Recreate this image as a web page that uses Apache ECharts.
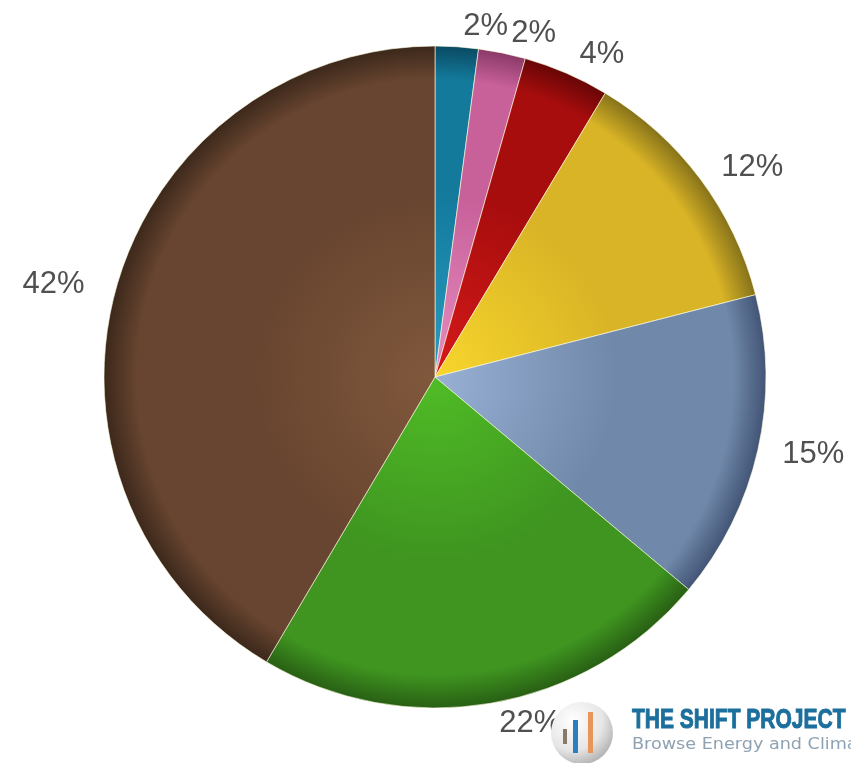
<!DOCTYPE html>
<html>
<head>
<meta charset="utf-8">
<script src="https://cdn.jsdelivr.net/npm/echarts@6/dist/echarts.min.js"></script>
<style>
  html, body { margin: 0; padding: 0; background: #ffffff; }
  #chart { width: 851px; height: 763px; }
</style>
</head>
<body>
<div id="chart"></div>
<script>
// Share of each source (percent), clockwise from 12 o'clock
const categories = ['Teal', 'Pink', 'Red', 'Yellow', 'Blue', 'Green', 'Brown'];
const shares = [2.1, 2.3, 4.2, 12.4, 15.1, 22.4, 41.5];
// Shading per slice: [centre, body, rim]
const sliceShades = [
  ['#2a9cc0', '#137a9c', '#0a4a62'],
  ['#e68cc0', '#c8609a', '#8a3a68'],
  ['#d61a1a', '#a80d0d', '#680606'],
  ['#f8d62c', '#d9b426', '#86721a'],
  ['#97b0d4', '#7089aa', '#435576'],
  ['#50bc26', '#3f9520', '#285f14'],
  ['#80583c', '#684530', '#3c281b']
];

const CX = 435, CY = 377, R = 331;

function shade(c) {
  return {
    type: 'radial', x: CX, y: CY, r: R, global: true,
    colorStops: [
      { offset: 0, color: c[0] },
      { offset: 0.55, color: c[1] },
      { offset: 0.9, color: c[1] },
      { offset: 1, color: c[2] }
    ]
  };
}

const chart = echarts.init(document.getElementById('chart'), null, { renderer: 'canvas' });

chart.setOption({
  animation: false,
  backgroundColor: '#ffffff',
  series: [{
    type: 'pie',
    center: [CX, CY],
    radius: [0, R],
    startAngle: 90,
    clockwise: true,
    avoidLabelOverlap: false,
    itemStyle: { borderColor: 'rgba(255,255,225,0.6)', borderWidth: 1 },
    label: {
      show: true,
      position: 'outside',
      fontFamily: 'Liberation Sans, Arial, sans-serif',
      fontSize: 31,
      color: '#505050',
      distanceToLabelLine: 5,
      formatter: p => Math.round(p.percent) + '%'
    },
    labelLine: { show: false, length: 20, length2: 0 },
    data: categories.map((name, i) => ({
      name: name,
      value: shares[i],
      itemStyle: { color: shade(sliceShades[i]) },
      label: i === 6 ? { distanceToLabelLine: 12 } : undefined
    }))
  }],
  graphic: [
    {
      type: 'circle',
      shape: { cx: 582, cy: 733, r: 31 },
      style: {
        fill: {
          type: 'radial', x: 0.35, y: 0.3, r: 0.8,
          colorStops: [
            { offset: 0, color: '#ffffff' },
            { offset: 0.6, color: '#e6e6e6' },
            { offset: 1, color: '#a9a9a9' }
          ]
        }
      },
      z: 10
    },
    { type: 'rect', shape: { x: 563, y: 729, width: 4, height: 15 }, style: { fill: '#8a7a6a' }, z: 11 },
    { type: 'rect', shape: { x: 573, y: 720, width: 5, height: 33 }, style: { fill: '#2a7fc0' }, z: 11 },
    { type: 'rect', shape: { x: 588, y: 712, width: 5, height: 41 }, style: { fill: '#e8955a' }, z: 11 },
    {
      type: 'text',
      x: 632, y: 706,
      scaleX: 0.75,
      style: {
        text: 'THE SHIFT PROJECT',
        font: 'bold 28px "Liberation Sans", Arial, sans-serif',
        fill: '#1c6f9c',
        stroke: '#1c6f9c',
        lineWidth: 1,
        textVerticalAlign: 'top'
      },
      z: 11
    },
    {
      type: 'text',
      x: 632, y: 737,
      scaleX: 1.1,
      style: {
        text: 'Browse Energy and Climate Data',
        font: '16px "DejaVu Sans", sans-serif',
        fill: '#8fa2b2',
        textVerticalAlign: 'top'
      },
      z: 11
    }
  ]
});
</script>
</body>
</html>
